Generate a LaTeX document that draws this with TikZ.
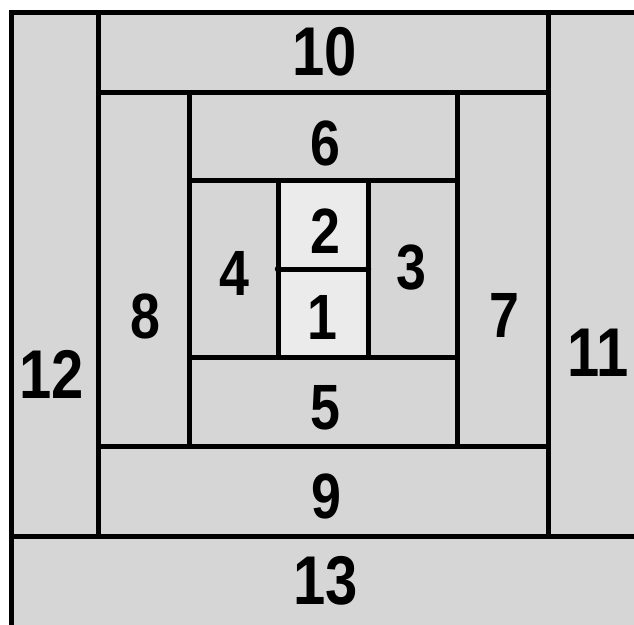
\documentclass[tikz,border=0pt]{standalone}
\usepackage{fontspec}
\newfontfamily\labfont{Liberation Sans}[FakeStretch=0.84]
\tikzset{
  patch/.style={fill=black!16},
  lightpatch/.style={fill=black!8},
  seam/.style={line width=5pt, line cap=rect},
  lab/.style={inner sep=0pt, font=\labfont\bfseries\fontsize{64}{64}\selectfont},
  biglab/.style={inner sep=0pt, font=\labfont\bfseries\fontsize{69}{69}\selectfont},
  knot/.style={circle, fill=black, inner sep=0pt, minimum size=6.5pt}
}
\begin{document}
\begin{tikzpicture}[x=1pt,y=-1pt]
\useasboundingbox (0,0) rectangle (634,624);
\clip (0,0) rectangle (634,624);
% patches
\path[patch] (11,12) rectangle (98,536);      % 12
\path[patch] (98,12) rectangle (548,92);      % 10
\path[patch] (548,12) rectangle (645,536);    % 11
\path[patch] (11,536) rectangle (645,640);    % 13
\path[patch] (98,446) rectangle (548,536);    % 9
\path[patch] (98,92) rectangle (189,446);     % 8
\path[patch] (457,92) rectangle (548,446);    % 7
\path[patch] (189,92) rectangle (457,180);    % 6
\path[patch] (189,357) rectangle (457,446);   % 5
\path[patch] (189,180) rectangle (278,357);   % 4
\path[patch] (368,180) rectangle (457,357);   % 3
\path[lightpatch] (278,180) rectangle (368,269); % 2
\path[lightpatch] (278,269) rectangle (368,357); % 1
% seams
\draw[seam] (11,640) -- (11,12) -- (645,12);
\draw[seam] (98,12) -- (98,536);
\draw[seam] (548,12) -- (548,536);
\draw[seam] (11,536) -- (645,536);
\draw[seam] (98,92) -- (548,92);
\draw[seam] (98,446) -- (548,446);
\draw[seam] (189,92) -- (189,446);
\draw[seam] (457,92) -- (457,446);
\draw[seam] (189,180) -- (457,180);
\draw[seam] (189,357) -- (457,357);
\draw[seam] (278,180) -- (278,357);
\draw[seam] (368,180) -- (368,357);
\draw[seam] (278,269) -- (368,269);
\node[knot] (k1) at (278,269) {};
\node[knot] (k2) at (368,269) {};
% labels
\node[lab] (l1) at (322,317) {1};
\node[lab] (l2) at (325,231) {2};
\node[lab] (l3) at (411,268) {3};
\node[lab] (l4) at (234,273) {4};
\node[lab] (l5) at (325,408) {5};
\node[lab] (l6) at (325,143) {6};
\node[lab] (l7) at (504,315) {7};
\node[lab] (l8) at (145,316) {8};
\node[lab] (l9) at (326,496) {9};
\node[biglab] (l10) at (325,52) {10};
\node[biglab] (l11) at (598,353) {11};
\node[biglab] (l12) at (52,374) {12};
\node[biglab] (l13) at (326,581) {13};
\end{tikzpicture}
\end{document}
